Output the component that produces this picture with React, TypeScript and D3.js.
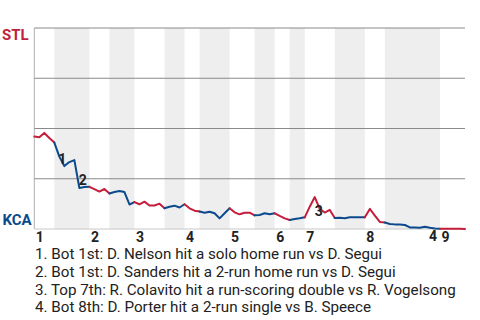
import React from 'react';
import * as d3 from 'd3';

// ---- data ----
const innings = ['1', '2', '3', '4', '5', '6', '7', '8', '9'];
// index of the last event of each half inning (top 1st, bot 1st, top 2nd, ...)
const halfInningEnds = [4, 11, 15, 20, 26, 30, 33, 39, 44, 48, 51, 54, 60, 66, 70, 81, 86];
// St. Louis win probability after each event
const stlWinProb = [
  0.46, 0.456, 0.478, 0.453, 0.43,
  0.36, 0.313, 0.333, 0.343, 0.204, 0.209, 0.21,
  0.198, 0.186, 0.199, 0.177,
  0.184, 0.189, 0.184, 0.122, 0.134,
  0.123, 0.136, 0.117, 0.117, 0.126, 0.103,
  0.111, 0.116, 0.107, 0.123,
  0.103, 0.091, 0.087,
  0.081, 0.086, 0.078, 0.053, 0.078, 0.103,
  0.083, 0.073, 0.081, 0.081, 0.068,
  0.07, 0.078, 0.073, 0.078,
  0.065, 0.053, 0.045,
  0.05, 0.053, 0.058,
  0.111, 0.159, 0.1, 0.082, 0.095, 0.055,
  0.056, 0.053, 0.058, 0.058, 0.058, 0.058,
  0.1, 0.067, 0.035, 0.032,
  0.025, 0.023, 0.022, 0.02, 0.008, 0.007, 0.006, 0.011, 0.006, 0.002, 0.001,
  0.001, 0.001, 0.001, 0.001, 0.0,
];
const gridValues = [0.25, 0.5, 0.75, 1];
const annotationEvents = [6, 10, 57, 80];
const annotationTexts = [
  '1. Bot 1st: D. Nelson hit a solo home run vs D. Segui',
  '2. Bot 1st: D. Sanders hit a 2-run home run vs D. Segui',
  '3. Top 7th: R. Colavito hit a run-scoring double vs R. Vogelsong',
  '4. Bot 8th: D. Porter hit a 2-run single vs B. Speece',
];
const teams = { top: 'STL', bottom: 'KCA' };

// ---- style ----
const W = 480, H = 320;
const RED = '#c41e3a';
const BLUE = '#0b4a8c';
const FONT = 'Roboto, "Noto Sans", sans-serif';
const labelOffsets = [[-2, -7.5], [-1.5, -7], [-1, 2], [-2, 7.5]];

export default function App() {
  const x = d3.scaleLinear().domain([0, stlWinProb.length - 1]).range([34.3, 465]);
  const y = d3.scaleLinear().domain([0, 1]).range([229, 28]);

  const halves = halfInningEnds.map((end, h) => {
    const start = h === 0 ? 0 : halfInningEnds[h - 1];
    return { h, start, end, isBottom: h % 2 === 1 };
  });

  return (
    <svg width={W} height={H} style={{ position: 'absolute', left: 0, top: 0 }} fontFamily={FONT}>
      <rect width={W} height={H} fill="#fff" />
      {halves.filter((d) => d.isBottom).map((d) => (
        <rect key={'b' + d.h} x={x(d.start)} y={y(1)} width={x(d.end) - x(d.start)} height={y(0) - y(1)} fill="#eeeeee" />
      ))}
      <line x1={x(0)} x2={x(0)} y1={y(1)} y2={y(0)} stroke="#b0b0b0" strokeWidth={1} />
      <line x1={x(0)} x2={x.range()[1]} y1={y(0)} y2={y(0)} stroke="#c8c8c8" strokeWidth={1} />
      {gridValues.map((v) => (
        <line key={v} x1={x(0)} x2={x.range()[1]} y1={y(v)} y2={y(v)} stroke="#8a8a8a" strokeWidth={1} />
      ))}
      {halves.map((d) => {
        const pts = stlWinProb.slice(d.start, d.end + 1);
        const path = d3.line<number>().x((_, i) => x(d.start + i)).y((v) => y(v))(pts);
        return (
          <path key={'l' + d.h} d={path || ''} fill="none" stroke={d.isBottom ? BLUE : RED}
            strokeWidth={2} strokeLinejoin="round" strokeLinecap="round" />
        );
      })}
      {annotationEvents.map((e, i) => (
        <text key={'a' + i} x={x(e) + labelOffsets[i][0]} y={y(stlWinProb[e]) + labelOffsets[i][1]}
          textAnchor="middle" dominantBaseline="central" fontSize={14} fontWeight="bold" fill="#222">
          {i + 1}
        </text>
      ))}
      {innings.map((lab, k) => {
        const start = k === 0 ? 0 : halfInningEnds[2 * k - 1];
        return (
          <text key={'i' + k} x={x(start) + 1.5} y={242} fontSize={14} fontWeight="bold" fill="#222">
            {lab}
          </text>
        );
      })}
      <text x={2} y={39.5} fontSize={15} fontWeight="bold" fill={RED}>{teams.top}</text>
      <text x={2.5} y={225} fontSize={15} fontWeight="bold" fill={BLUE}>{teams.bottom}</text>
      {annotationTexts.map((t, i) => (
        <text key={'t' + i} x={35} y={259 + i * 17.8} fontSize={15.2} fill="#222">{t}</text>
      ))}
    </svg>
  );
}
